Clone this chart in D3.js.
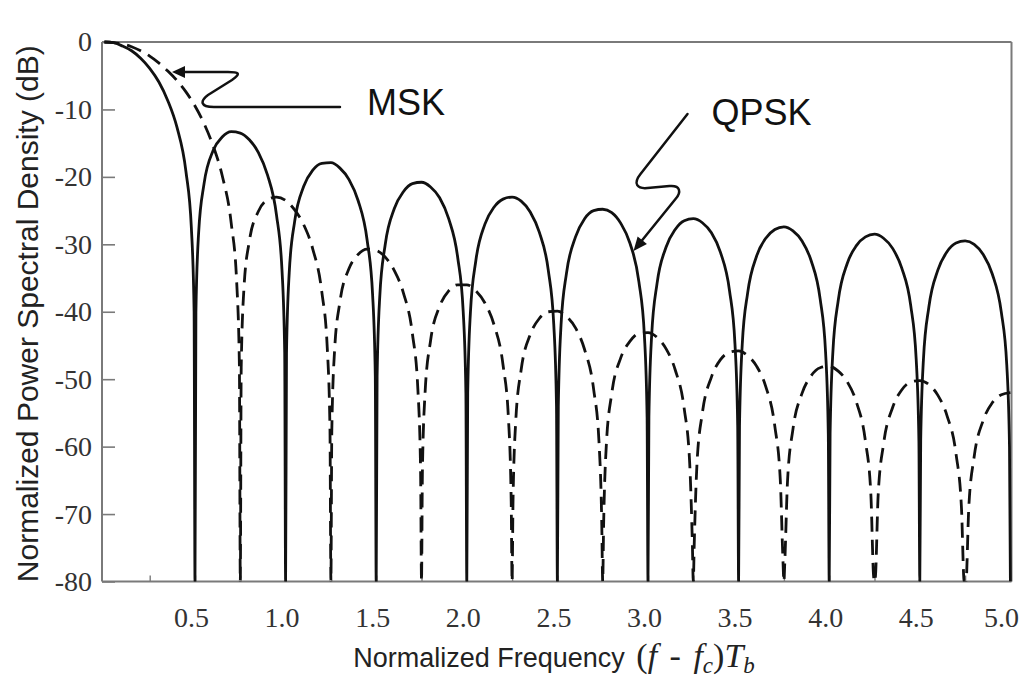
<!DOCTYPE html>
<html>
<head>
<meta charset="utf-8">
<script src="https://cdn.jsdelivr.net/npm/d3@7"></script>
<style>
  html, body { margin: 0; padding: 0; background: #fff; }
  svg { display: block; }
</style>
</head>
<body>
<svg id="chart" width="1021" height="682"></svg>
<script>
// Normalized frequency (f - fc)Tb and PSD in dB for QPSK (solid curve)
const qpskFreq = [
  0, 0.05, 0.1, 0.15, 0.2, 0.25, 0.3, 0.35, 0.4, 0.45, 0.48, 0.495, 0.5,
  0.505, 0.52, 0.55, 0.6, 0.65, 0.7, 0.75, 0.8, 0.85, 0.9, 0.95, 0.98, 0.995, 1.0,
  1.005, 1.02, 1.05, 1.1, 1.15, 1.2, 1.25, 1.3, 1.35, 1.4, 1.45, 1.48, 1.495, 1.5,
  1.505, 1.52, 1.55, 1.6, 1.65, 1.7, 1.75, 1.8, 1.85, 1.9, 1.95, 1.98, 1.995, 2.0,
  2.005, 2.02, 2.05, 2.1, 2.15, 2.2, 2.25, 2.3, 2.35, 2.4, 2.45, 2.48, 2.495, 2.5,
  2.505, 2.52, 2.55, 2.6, 2.65, 2.7, 2.75, 2.8, 2.85, 2.9, 2.95, 2.98, 2.995, 3.0,
  3.005, 3.02, 3.05, 3.1, 3.15, 3.2, 3.25, 3.3, 3.35, 3.4, 3.45, 3.48, 3.495, 3.5,
  3.505, 3.52, 3.55, 3.6, 3.65, 3.7, 3.75, 3.8, 3.85, 3.9, 3.95, 3.98, 3.995, 4.0,
  4.005, 4.02, 4.05, 4.1, 4.15, 4.2, 4.25, 4.3, 4.35, 4.4, 4.45, 4.48, 4.495, 4.5,
  4.505, 4.52, 4.55, 4.6, 4.65, 4.7, 4.75, 4.8, 4.85, 4.9, 4.95, 4.98, 4.995, 5.0
];
const qpskDb = [
  0, -0.1, -0.6, -1.3, -2.4, -3.9, -5.9, -8.7, -12.6, -19.2, -27.6, -39.9, -80,
  -40.1, -28.3, -21.0, -16.1, -14.1, -13.3, -13.5, -14.5, -16.4, -19.7, -25.7, -33.8, -46.0, -80,
  -46.1, -34.2, -26.6, -21.4, -19.0, -18.0, -17.9, -18.7, -20.4, -23.5, -29.4, -37.4, -49.5, -80,
  -49.6, -37.6, -30.0, -24.7, -22.2, -21.0, -20.8, -21.5, -23.1, -26.2, -32.0, -39.9, -52.0, -80,
  -52.1, -40.1, -32.4, -27.0, -24.5, -23.3, -23.0, -23.6, -25.2, -28.2, -33.9, -41.9, -54.0, -80,
  -54.0, -42.0, -34.3, -28.9, -26.2, -25.0, -24.8, -25.3, -26.9, -29.8, -35.6, -43.5, -55.6, -80,
  -55.6, -43.6, -35.8, -30.4, -27.8, -26.5, -26.2, -26.8, -28.3, -31.2, -36.9, -44.8, -56.9, -80,
  -56.9, -44.9, -37.2, -31.7, -29.1, -27.8, -27.4, -28.0, -29.5, -32.4, -38.1, -46.0, -58.1, -80,
  -58.1, -46.1, -38.3, -32.8, -30.2, -28.9, -28.5, -29.1, -30.6, -33.5, -39.1, -47.0, -59.1, -80,
  -59.1, -47.1, -39.3, -33.8, -31.1, -29.8, -29.5, -30.0, -31.5, -34.4, -40.1, -47.9, -60.0, -80
];

// Normalized frequency and PSD in dB for MSK (dashed curve)
const mskFreq = [
  0, 0.05, 0.1, 0.15, 0.2, 0.25, 0.3, 0.35, 0.4, 0.45, 0.5, 0.55, 0.6, 0.65, 0.7, 0.73, 0.745, 0.75,
  0.755, 0.77, 0.8, 0.85, 0.9, 0.95, 1.0, 1.05, 1.1, 1.15, 1.2, 1.23, 1.245, 1.25,
  1.255, 1.27, 1.3, 1.35, 1.4, 1.45, 1.5, 1.55, 1.6, 1.65, 1.7, 1.73, 1.745, 1.75,
  1.755, 1.77, 1.8, 1.85, 1.9, 1.95, 2.0, 2.05, 2.1, 2.15, 2.2, 2.23, 2.245, 2.25,
  2.255, 2.27, 2.3, 2.35, 2.4, 2.45, 2.5, 2.55, 2.6, 2.65, 2.7, 2.73, 2.745, 2.75,
  2.755, 2.77, 2.8, 2.85, 2.9, 2.95, 3.0, 3.05, 3.1, 3.15, 3.2, 3.23, 3.245, 3.25,
  3.255, 3.27, 3.3, 3.35, 3.4, 3.45, 3.5, 3.55, 3.6, 3.65, 3.7, 3.73, 3.745, 3.75,
  3.755, 3.77, 3.8, 3.85, 3.9, 3.95, 4.0, 4.05, 4.1, 4.15, 4.2, 4.23, 4.245, 4.25,
  4.255, 4.27, 4.3, 4.35, 4.4, 4.45, 4.5, 4.55, 4.6, 4.65, 4.7, 4.73, 4.745, 4.75,
  4.755, 4.77, 4.8, 4.85, 4.9, 4.95, 5.0
];
const mskDb = [
  0, -0.1, -0.3, -0.7, -1.3, -2.1, -3.1, -4.3, -5.7, -7.4, -9.5, -12.1, -15.4, -19.8, -26.9, -35.6, -48.0, -80,
  -48.3, -36.6, -29.5, -25.1, -23.4, -23.0, -23.5, -24.9, -27.1, -30.7, -37.1, -45.4, -57.6, -80,
  -57.7, -45.9, -38.5, -33.6, -31.5, -30.7, -30.9, -31.9, -33.9, -37.2, -43.3, -51.5, -63.6, -80,
  -63.7, -51.9, -44.3, -39.2, -36.9, -36.0, -36.0, -36.9, -38.7, -41.9, -47.9, -55.9, -68.1, -80,
  -68.2, -56.3, -48.6, -43.4, -41.0, -40.0, -39.9, -40.7, -42.4, -45.6, -51.5, -59.5, -71.6, -80,
  -71.7, -59.8, -52.1, -46.8, -44.4, -43.2, -43.1, -43.8, -45.5, -48.6, -54.4, -62.4, -74.5, -80,
  -74.6, -62.7, -55.0, -49.7, -47.1, -46.0, -45.8, -46.5, -48.1, -51.1, -57.0, -64.9, -77.0, -80,
  -77.1, -65.1, -57.4, -52.1, -49.5, -48.3, -48.1, -48.8, -50.4, -53.4, -59.2, -67.1, -79.2, -80,
  -79.3, -67.3, -59.6, -54.2, -51.6, -50.4, -50.2, -50.8, -52.4, -55.4, -61.1, -69.1, -80, -80,
  -80, -69.2, -61.5, -56.1, -53.5, -52.3, -52.0
];

// Axis ticks
const yTicks = [0, -10, -20, -30, -40, -50, -60, -70, -80];
const xTicks = [0.5, 1.0, 1.5, 2.0, 2.5, 3.0, 3.5, 4.0, 4.5, 5.0];
const xMinorTicks = [0.25, 0.5, 0.75, 1.0, 1.25, 1.5, 1.75, 2.0, 2.25, 2.5, 2.75, 3.0,
                     3.25, 3.5, 3.75, 4.0, 4.25, 4.5, 4.75, 5.0];

// Annotation labels and the curve points their arrows touch (data units)
const qpskLabel = "QPSK";
const mskLabel = "MSK";
const qpskArrowTip = [2.92, -31.0];
const mskArrowTip = [0.373, -4.45];

const svg = d3.select("#chart");
const W = 1021;
const plot = { left: 102, right: 1011.5, top: 42, bottom: 581.5 };

const x = d3.scaleLinear().domain([0, 5]).range([104.4, 1010.4]);
const y = d3.scaleLinear().domain([-80, 0]).range([plot.bottom, plot.top]);

const ink = "#111";
const axisGrey = "#7a7a7a";
const serif = "'Liberation Serif', 'Times New Roman', serif";
const sans = "'Liberation Sans', Arial, sans-serif";

svg.append("defs").append("clipPath").attr("id", "plotClip")
  .append("rect")
  .attr("x", plot.left).attr("y", plot.top - 2)
  .attr("width", plot.right - plot.left + 2).attr("height", plot.bottom - plot.top + 2);

// Frame
const frame = svg.append("g").attr("stroke", axisGrey).attr("stroke-width", 2).attr("fill", "none");
frame.append("line").attr("x1", plot.left).attr("x2", plot.right).attr("y1", plot.top).attr("y2", plot.top);
frame.append("line").attr("x1", plot.left).attr("x2", plot.right).attr("y1", plot.bottom).attr("y2", plot.bottom);
frame.append("line").attr("x1", plot.left).attr("x2", plot.left).attr("y1", plot.top).attr("y2", plot.bottom);
frame.append("line").attr("x1", plot.right).attr("x2", plot.right).attr("y1", plot.top).attr("y2", plot.bottom);

// Y axis: inward ticks, serif labels
const yAxis = svg.append("g")
  .attr("transform", `translate(${plot.left},0)`)
  .call(d3.axisLeft(y).tickValues(yTicks).tickSizeInner(-13).tickSizeOuter(0)
        .tickPadding(10).tickFormat(d => String(d)));
yAxis.select(".domain").remove();
yAxis.selectAll(".tick line").attr("stroke", axisGrey).attr("stroke-width", 1.6);
yAxis.selectAll(".tick text")
  .attr("font-family", serif).attr("font-size", 28).attr("fill", "#333");

// X axis: small inward minor ticks, serif labels
const xMinor = svg.append("g")
  .attr("transform", `translate(0,${plot.bottom})`)
  .call(d3.axisBottom(x).tickValues(xMinorTicks).tickSizeInner(-6).tickSizeOuter(0).tickFormat(""));
xMinor.select(".domain").remove();
xMinor.selectAll(".tick line").attr("stroke", axisGrey).attr("stroke-width", 1.4);

const xAxis = svg.append("g")
  .attr("transform", `translate(-4,${plot.bottom})`)
  .call(d3.axisBottom(x).tickValues(xTicks).tickSize(0).tickPadding(26)
        .tickFormat(d => d.toFixed(1)));
xAxis.select(".domain").remove();
xAxis.selectAll(".tick text")
  .attr("font-family", serif).attr("font-size", 28).attr("fill", "#333");
// keep the last label inside the page
xAxis.selectAll(".tick text").each(function () {
  const b = this.getBBox();
  const g = this.parentNode.transform.baseVal.consolidate().matrix;
  const right = g.e - 4 + b.x + b.width;
  if (right > W - 2) d3.select(this).attr("x", (W - 2) - right);
});

// Curves
const line = d3.line()
  .x(d => x(d[0]))
  .y(d => y(Math.max(-80, d[1])))
  .curve(d3.curveMonotoneX);

const curves = svg.append("g").attr("clip-path", "url(#plotClip)").attr("fill", "none");

curves.append("path")
  .datum(mskFreq.map((f, i) => [f, mskDb[i]]))
  .attr("d", line)
  .attr("stroke", ink).attr("stroke-width", 2.8)
  .attr("stroke-dasharray", "15,8");

curves.append("path")
  .datum(qpskFreq.map((f, i) => [f, qpskDb[i]]))
  .attr("d", line)
  .attr("stroke", ink).attr("stroke-width", 2.8);

// Annotation arrows
function arrowHead(g, tip, from, len, half) {
  const dx = tip[0] - from[0], dy = tip[1] - from[1];
  const n = Math.hypot(dx, dy), ux = dx / n, uy = dy / n;
  const bx = tip[0] - ux * len, by = tip[1] - uy * len;
  g.append("path")
    .attr("d", `M${tip[0]},${tip[1]}L${bx - uy * half},${by + ux * half}L${bx + uy * half},${by - ux * half}Z`)
    .attr("fill", ink).attr("stroke", "none");
}

const notes = svg.append("g").attr("fill", "none").attr("stroke", ink)
  .attr("stroke-width", 2.5).attr("stroke-linecap", "round").attr("stroke-linejoin", "round");

// MSK pointer
{
  const tx = x(mskArrowTip[0]), ty = y(mskArrowTip[1]);
  const p = d3.path();
  p.moveTo(tx + 168, ty + 35);
  p.lineTo(tx + 42, ty + 35);
  p.bezierCurveTo(tx + 28, ty + 35, tx + 28, ty + 29, tx + 36, ty + 23);
  p.lineTo(tx + 60, ty + 8);
  p.bezierCurveTo(tx + 70, ty + 1, tx + 66, ty, tx + 56, ty);
  p.lineTo(tx + 10, ty);
  notes.append("path").attr("d", p.toString());
  arrowHead(notes, [tx, ty], [tx + 20, ty], 13, 6);
  svg.append("text")
    .attr("x", tx + 195).attr("y", ty + 43)
    .attr("font-family", sans).attr("font-size", 36).attr("fill", ink)
    .text(mskLabel);
}

// QPSK pointer
{
  const tx = x(qpskArrowTip[0]), ty = y(qpskArrowTip[1]);
  const p = d3.path();
  p.moveTo(tx + 54, ty - 137);
  p.lineTo(tx + 7, ty - 77);
  p.bezierCurveTo(tx - 1, ty - 67, tx + 4, ty - 62, tx + 14, ty - 63);
  p.lineTo(tx + 36, ty - 65);
  p.bezierCurveTo(tx + 47, ty - 66, tx + 48, ty - 59, tx + 42, ty - 52);
  p.lineTo(tx + 8, ty - 10);
  notes.append("path").attr("d", p.toString());
  arrowHead(notes, [tx, ty], [tx + 42, ty - 52], 14, 6);
  svg.append("text")
    .attr("x", tx + 78).attr("y", ty - 126)
    .attr("font-family", sans).attr("font-size", 36).attr("fill", ink)
    .text(qpskLabel);
}

// Axis titles
svg.append("text")
  .attr("transform", `translate(27,${(plot.top + plot.bottom) / 2 + 2}) rotate(-90)`)
  .attr("text-anchor", "middle").attr("dominant-baseline", "central")
  .attr("font-family", sans).attr("font-size", 30).attr("fill", "#222")
  .text("Normalized Power Spectral Density (dB)");

const xt = svg.append("text")
  .attr("x", 554).attr("y", 667)
  .attr("text-anchor", "middle")
  .attr("font-family", sans).attr("font-size", 27).attr("fill", "#222");
xt.append("tspan").text("Normalized Frequency ");
xt.append("tspan").attr("font-family", serif).attr("font-size", 34).attr("dx", 4).text("(");
xt.append("tspan").attr("font-family", serif).attr("font-size", 34).attr("font-style", "italic").text("f");
xt.append("tspan").attr("font-family", serif).attr("font-size", 34).attr("dx", 4).text(" - ");
xt.append("tspan").attr("font-family", serif).attr("font-size", 34).attr("dx", 4).attr("font-style", "italic").text("f");
xt.append("tspan").attr("font-family", serif).attr("font-style", "italic")
  .attr("font-size", 23).attr("dy", 6).text("c");
xt.append("tspan").attr("font-family", serif).attr("font-size", 34).attr("dy", -6).text(")");
xt.append("tspan").attr("font-family", serif).attr("font-size", 34).attr("font-style", "italic").text("T");
xt.append("tspan").attr("font-family", serif).attr("font-style", "italic")
  .attr("font-size", 23).attr("dy", 6).text("b");
</script>
</body>
</html>
